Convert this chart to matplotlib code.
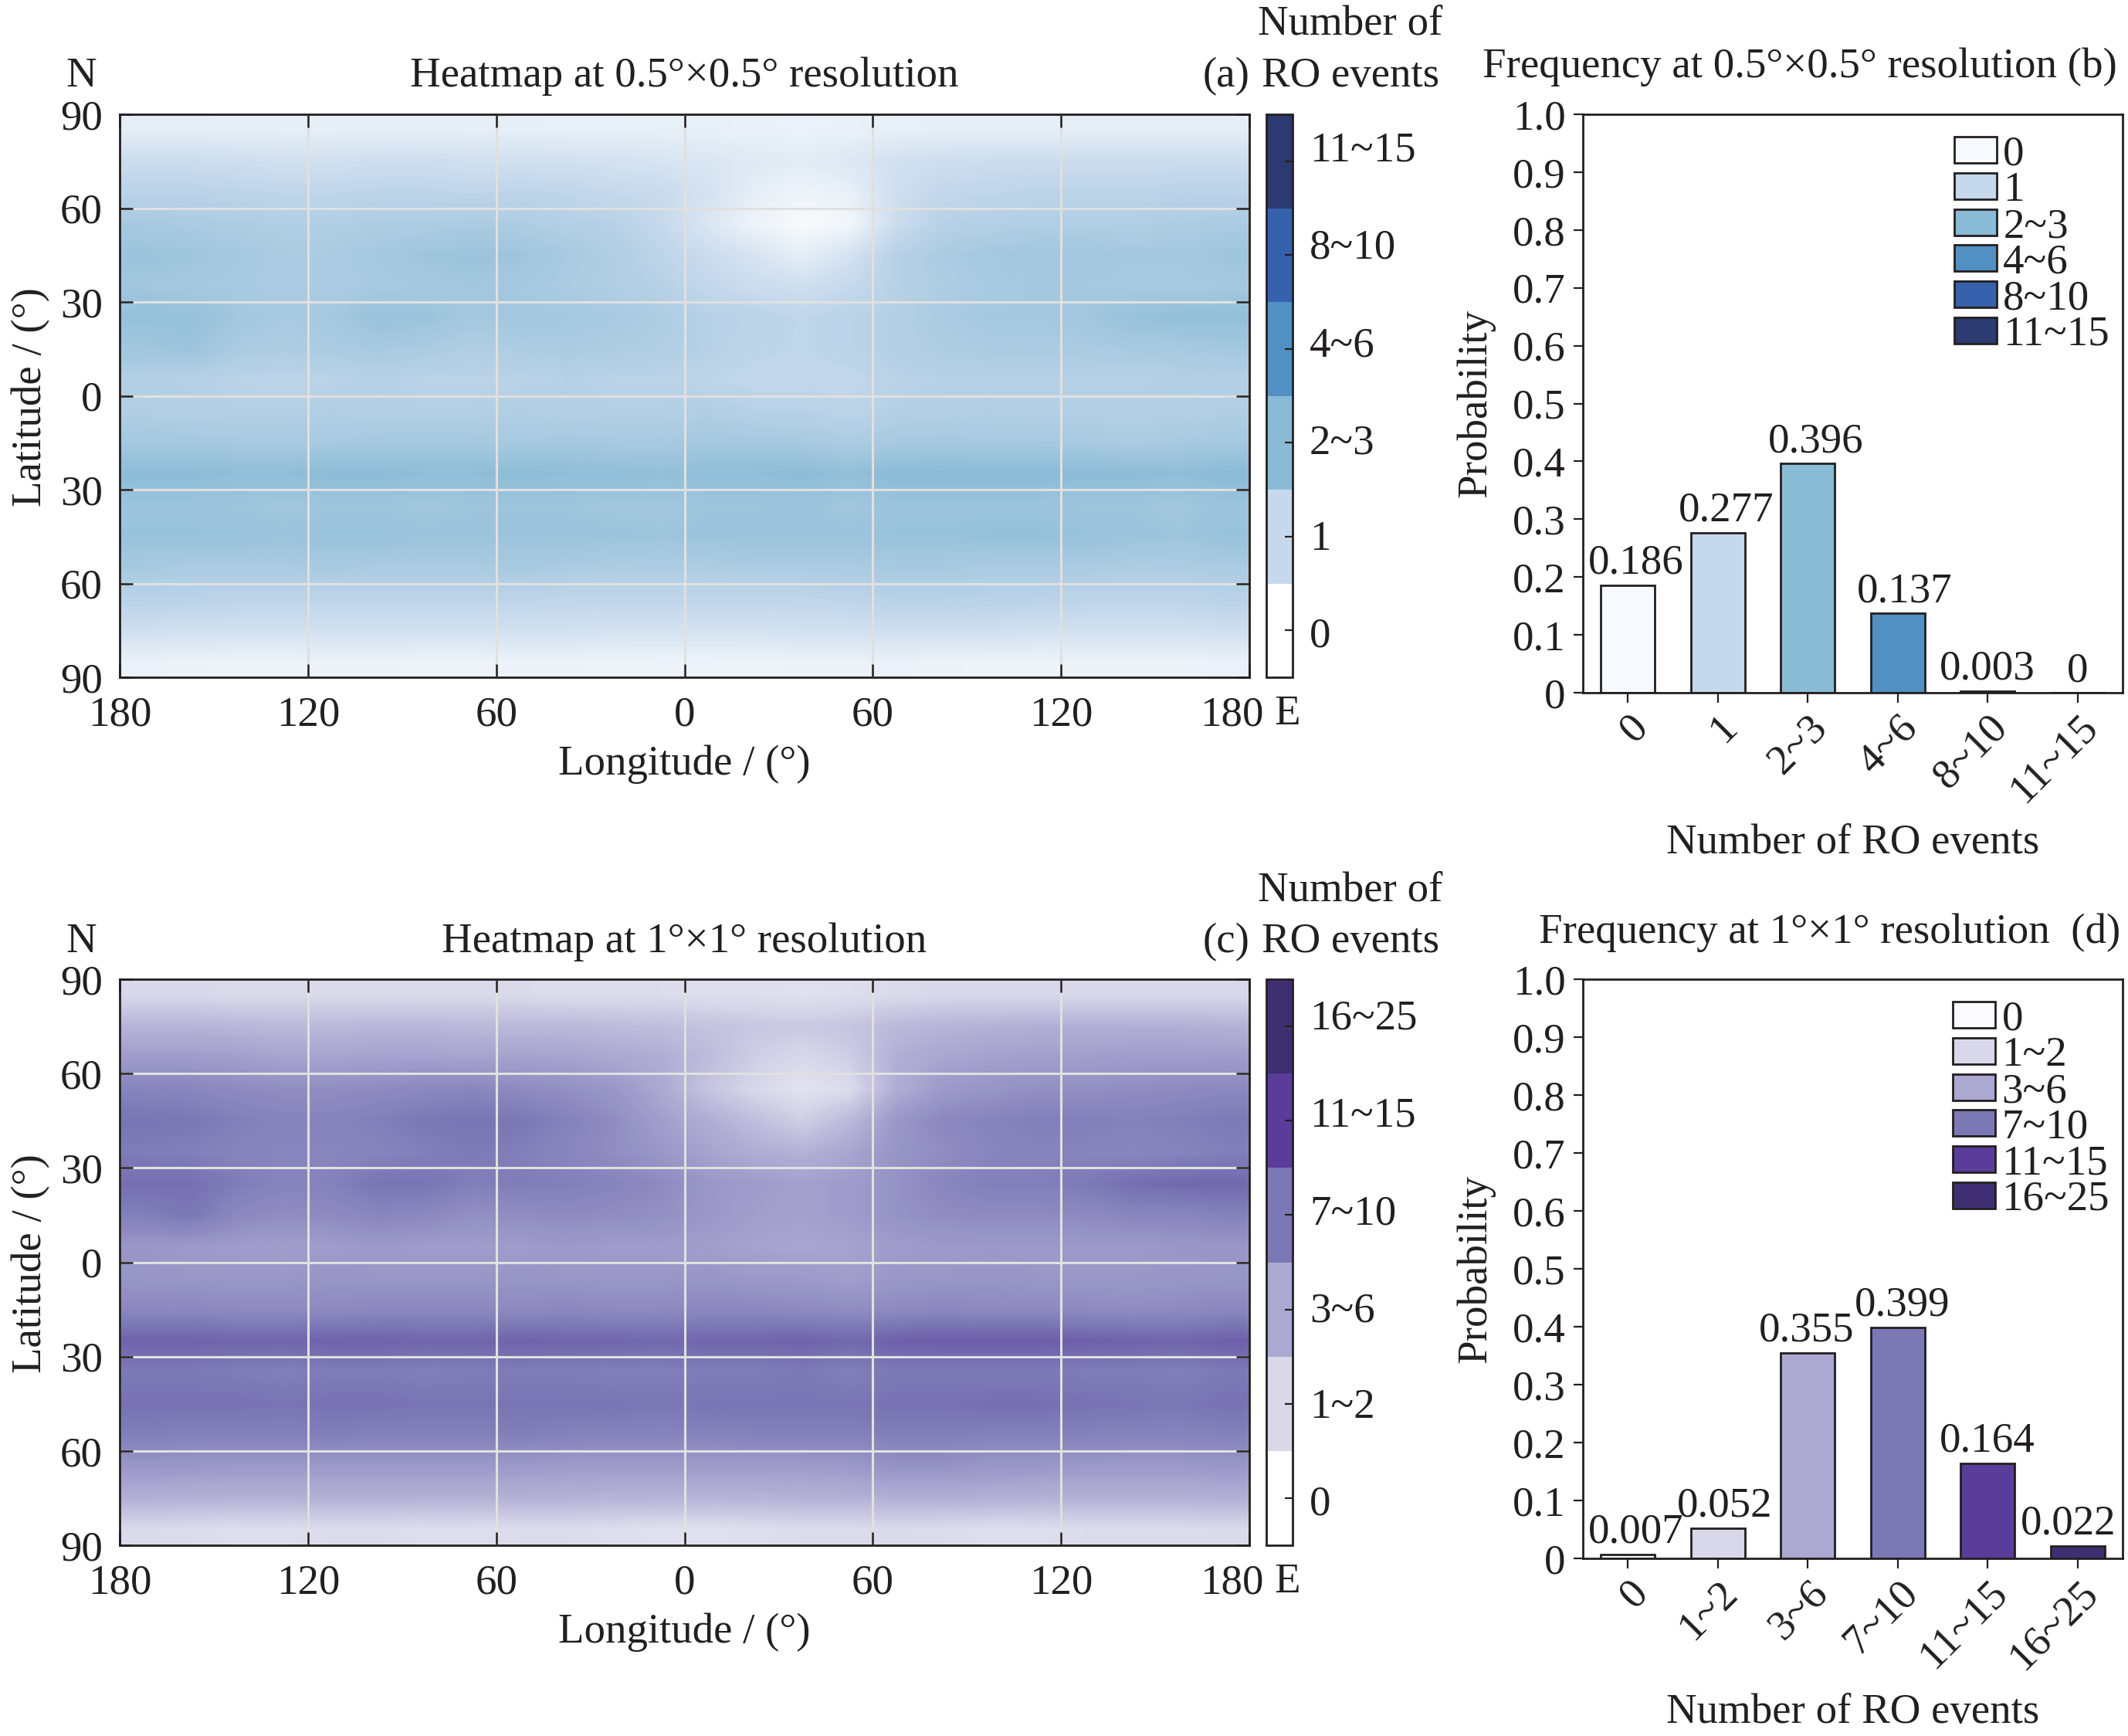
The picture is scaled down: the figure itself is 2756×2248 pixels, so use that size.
import matplotlib
matplotlib.use('Agg')
import matplotlib.pyplot as plt
import numpy as np
from matplotlib.cm import ScalarMappable
from matplotlib.colors import BoundaryNorm, LinearSegmentedColormap, ListedColormap
from matplotlib.patches import Patch
from matplotlib.transforms import ScaledTranslation

W, H = 2756, 2248
plt.rcParams['font.family'] = ['Liberation Serif', 'DejaVu Serif']
plt.rcParams['text.color'] = '#231F20'
plt.rcParams['axes.edgecolor'] = '#231F20'
plt.rcParams['xtick.color'] = '#231F20'
plt.rcParams['ytick.color'] = '#231F20'
FS = 39.5

# bar panels
classes_b = ['0', '1', '2~3', '4~6', '8~10', '11~15']
probs_b = [0.186, 0.277, 0.396, 0.137, 0.003, 0]
labels_b = ['0.186', '0.277', '0.396', '0.137', '0.003', '0']
shift_b = [0.09, 0.09, 0.09, 0.08, 0, 0]
colors_b = ['#F6F9FD', '#C6D9EC', '#8ABBD6', '#5190C2', '#3661AC', '#2B3A70']
cbar_colors_a = ['#FFFFFF', '#C6D9EC', '#8ABBD6', '#5190C2', '#3661AC', '#2B3A70']

classes_d = ['0', '1~2', '3~6', '7~10', '11~15', '16~25']
probs_d = [0.007, 0.052, 0.355, 0.399, 0.164, 0.022]
labels_d = ['0.007', '0.052', '0.355', '0.399', '0.164', '0.022']
shift_d = [0.09, 0.08, -0.01, 0.05, 0, -0.1]
colors_d = ['#FBFAFE', '#D9D8EA', '#ABA8D2', '#7C78B6', '#5A3D9A', '#3F2F72']
cbar_colors_c = ['#FFFFFF', '#D9D8EA', '#ABA8D2', '#7C78B6', '#5A3D9A', '#3F2F72']

# heatmaps: shade per 15 x 10 degree box, on the colour
# class scale (0 = lightest class). rows run 85N to 85S, columns 172.5W to 172.5E
heat_a = [
    [.46, .46, .44, .44, .44, .44, .44, .44, .44, .42, .42, .40, .40, .38, .36, .38, .42, .44, .44, .44, .46, .46, .46, .46],
    [.90, .90, .85, .80, .80, .85, .85, .80, .80, .80, .75, .70, .65, .55, .50, .60, .80, .85, .90, .90, .90, .90, .90, .90],
    [1.20, 1.20, 1.15, 1.10, 1.10, 1.15, 1.15, 1.10, 1.15, 1.10, 1.00, .95, .75, .45, .30, .40, .85, 1.05, 1.10, 1.15, 1.15, 1.15, 1.20, 1.20],
    [1.50, 1.45, 1.40, 1.35, 1.35, 1.40, 1.40, 1.45, 1.40, 1.30, 1.25, 1.00, .65, .30, .12, .22, .90, 1.25, 1.30, 1.35, 1.35, 1.35, 1.40, 1.45],
    [1.70, 1.65, 1.55, 1.45, 1.45, 1.55, 1.65, 1.70, 1.65, 1.50, 1.35, 1.15, .90, .70, .45, .75, 1.25, 1.45, 1.55, 1.60, 1.60, 1.55, 1.55, 1.65],
    [1.60, 1.55, 1.50, 1.45, 1.45, 1.50, 1.55, 1.60, 1.55, 1.45, 1.35, 1.25, 1.05, .90, .85, 1.00, 1.25, 1.40, 1.50, 1.55, 1.55, 1.50, 1.50, 1.55],
    [1.80, 1.80, 1.60, 1.50, 1.55, 1.75, 1.70, 1.55, 1.60, 1.55, 1.50, 1.40, 1.25, 1.20, 1.10, 1.20, 1.30, 1.45, 1.55, 1.55, 1.60, 1.75, 1.85, 1.85],
    [1.60, 1.70, 1.45, 1.40, 1.45, 1.50, 1.45, 1.35, 1.40, 1.45, 1.40, 1.35, 1.25, 1.15, 1.10, 1.20, 1.30, 1.40, 1.45, 1.45, 1.45, 1.50, 1.50, 1.55],
    [1.30, 1.25, 1.20, 1.15, 1.20, 1.25, 1.20, 1.20, 1.20, 1.25, 1.20, 1.20, 1.15, 1.05, 1.05, 1.05, 1.20, 1.25, 1.25, 1.25, 1.25, 1.25, 1.30, 1.30],
    [1.35, 1.30, 1.30, 1.30, 1.35, 1.30, 1.30, 1.30, 1.35, 1.30, 1.30, 1.30, 1.35, 1.25, 1.25, 1.15, 1.30, 1.30, 1.35, 1.30, 1.30, 1.30, 1.30, 1.35],
    [1.55, 1.55, 1.50, 1.50, 1.50, 1.55, 1.55, 1.55, 1.50, 1.55, 1.50, 1.50, 1.55, 1.55, 1.50, 1.45, 1.50, 1.55, 1.50, 1.50, 1.50, 1.45, 1.50, 1.55],
    [1.95, 1.95, 1.90, 1.90, 1.95, 1.95, 1.90, 1.90, 1.95, 1.90, 1.90, 1.85, 1.90, 1.90, 1.95, 1.85, 2.00, 2.00, 2.00, 2.00, 1.95, 1.95, 1.90, 2.00],
    [1.70, 1.70, 1.65, 1.60, 1.65, 1.65, 1.60, 1.65, 1.65, 1.65, 1.60, 1.60, 1.65, 1.65, 1.70, 1.60, 1.70, 1.70, 1.70, 1.70, 1.65, 1.65, 1.60, 1.70],
    [1.75, 1.75, 1.75, 1.70, 1.75, 1.75, 1.70, 1.70, 1.70, 1.70, 1.70, 1.65, 1.70, 1.70, 1.70, 1.70, 1.75, 1.75, 1.80, 1.80, 1.75, 1.70, 1.65, 1.75],
    [1.50, 1.45, 1.45, 1.45, 1.50, 1.45, 1.45, 1.45, 1.50, 1.45, 1.40, 1.40, 1.40, 1.45, 1.45, 1.45, 1.50, 1.50, 1.45, 1.45, 1.45, 1.40, 1.40, 1.45],
    [1.20, 1.20, 1.15, 1.15, 1.15, 1.15, 1.15, 1.15, 1.15, 1.10, 1.10, 1.10, 1.10, 1.10, 1.10, 1.15, 1.25, 1.25, 1.20, 1.20, 1.15, 1.15, 1.15, 1.20],
    [.85, .80, .80, .80, .80, .80, .80, .80, .80, .80, .75, .75, .75, .75, .80, .80, .85, .85, .85, .80, .80, .80, .80, .85],
    [.36, .34, .32, .32, .34, .34, .32, .32, .34, .34, .32, .30, .30, .32, .34, .34, .36, .34, .32, .32, .34, .34, .34, .36],
]
heat_c = [
    [1.00, 1.00, .95, .95, .95, .95, .95, .95, .95, .90, .90, .90, .85, .85, .80, .85, .95, 1.00, 1.00, 1.00, 1.00, 1.00, 1.00, 1.00],
    [1.75, 1.75, 1.70, 1.65, 1.65, 1.70, 1.70, 1.65, 1.65, 1.65, 1.60, 1.55, 1.45, 1.35, 1.30, 1.40, 1.65, 1.75, 1.80, 1.85, 1.85, 1.85, 1.85, 1.80],
    [2.25, 2.25, 2.20, 2.10, 2.10, 2.15, 2.15, 2.10, 2.15, 2.10, 2.00, 1.90, 1.60, 1.20, 1.00, 1.20, 1.85, 2.05, 2.15, 2.20, 2.20, 2.25, 2.25, 2.25],
    [2.75, 2.70, 2.60, 2.55, 2.55, 2.60, 2.65, 2.70, 2.60, 2.50, 2.35, 2.00, 1.40, 1.00, .75, .90, 1.90, 2.30, 2.40, 2.50, 2.50, 2.55, 2.60, 2.65],
    [3.05, 3.00, 2.85, 2.75, 2.75, 2.85, 3.00, 3.05, 3.00, 2.80, 2.55, 2.20, 1.90, 1.55, 1.20, 1.65, 2.35, 2.65, 2.75, 2.85, 2.85, 2.80, 2.85, 2.95],
    [2.90, 2.85, 2.75, 2.70, 2.70, 2.75, 2.85, 2.95, 2.85, 2.70, 2.55, 2.35, 2.10, 1.90, 1.80, 2.05, 2.40, 2.55, 2.70, 2.75, 2.75, 2.70, 2.75, 2.85],
    [3.15, 3.15, 2.90, 2.75, 2.80, 3.05, 3.05, 2.85, 2.90, 2.85, 2.75, 2.60, 2.35, 2.25, 2.15, 2.25, 2.45, 2.70, 2.85, 2.85, 2.95, 3.15, 3.25, 3.25],
    [2.85, 3.00, 2.65, 2.55, 2.60, 2.70, 2.65, 2.50, 2.55, 2.60, 2.55, 2.50, 2.35, 2.20, 2.15, 2.25, 2.45, 2.55, 2.60, 2.60, 2.60, 2.70, 2.70, 2.80],
    [2.35, 2.30, 2.25, 2.20, 2.25, 2.30, 2.25, 2.25, 2.25, 2.30, 2.25, 2.25, 2.20, 2.10, 2.05, 2.10, 2.25, 2.30, 2.30, 2.30, 2.30, 2.30, 2.35, 2.35],
    [2.40, 2.35, 2.35, 2.35, 2.40, 2.35, 2.35, 2.35, 2.40, 2.35, 2.35, 2.35, 2.40, 2.30, 2.30, 2.20, 2.35, 2.35, 2.40, 2.35, 2.35, 2.35, 2.35, 2.40],
    [2.65, 2.65, 2.60, 2.60, 2.60, 2.65, 2.65, 2.65, 2.60, 2.65, 2.60, 2.60, 2.65, 2.65, 2.60, 2.55, 2.60, 2.65, 2.60, 2.60, 2.60, 2.55, 2.60, 2.65],
    [3.35, 3.35, 3.30, 3.30, 3.35, 3.35, 3.30, 3.30, 3.35, 3.30, 3.30, 3.25, 3.30, 3.30, 3.35, 3.25, 3.40, 3.45, 3.45, 3.45, 3.40, 3.35, 3.30, 3.40],
    [2.95, 2.95, 2.90, 2.85, 2.90, 2.90, 2.85, 2.90, 2.90, 2.90, 2.85, 2.85, 2.90, 2.90, 2.95, 2.85, 2.95, 2.95, 2.95, 2.95, 2.90, 2.90, 2.85, 2.95],
    [3.10, 3.10, 3.10, 3.05, 3.10, 3.10, 3.05, 3.05, 3.05, 3.05, 3.05, 3.00, 3.05, 3.05, 3.05, 3.05, 3.10, 3.10, 3.15, 3.15, 3.10, 3.05, 3.00, 3.10],
    [2.85, 2.80, 2.80, 2.80, 2.85, 2.80, 2.80, 2.80, 2.85, 2.80, 2.75, 2.75, 2.75, 2.80, 2.80, 2.80, 2.85, 2.85, 2.80, 2.80, 2.80, 2.75, 2.75, 2.80],
    [2.35, 2.35, 2.30, 2.30, 2.30, 2.30, 2.30, 2.30, 2.30, 2.25, 2.25, 2.25, 2.25, 2.25, 2.25, 2.30, 2.45, 2.45, 2.35, 2.35, 2.30, 2.30, 2.30, 2.35],
    [1.85, 1.80, 1.80, 1.80, 1.80, 1.80, 1.80, 1.80, 1.80, 1.80, 1.75, 1.75, 1.75, 1.75, 1.80, 1.80, 1.85, 1.85, 1.85, 1.80, 1.80, 1.80, 1.80, 1.85],
    [.95, .90, .85, .85, .90, .90, .85, .85, .90, .90, .85, .80, .80, .85, .90, .90, .95, .90, .85, .85, .90, .90, .90, .95],
]

lon_ticks = [-180, -120, -60, 0, 60, 120, 180]
lon_labels = ['180', '120', '60', '0', '60', '120', '180']
lat_ticks = [-90, -60, -30, 0, 30, 60, 90]
lat_labels = ['90', '60', '30', '0', '30', '60', '90']
prob_ticks = [0, .1, .2, .3, .4, .5, .6, .7, .8, .9, 1.0]
prob_labels = ['0', '0.1', '0.2', '0.3', '0.4', '0.5', '0.6', '0.7', '0.8', '0.9', '1.0']

fig = plt.figure(figsize=(W / 100, H / 100), dpi=100)


def box(l, t, r, b):
    return fig.add_axes([l / W, 1 - b / H, (r - l) / W, (b - t) / H])


def put(x, y, s, **kw):
    kw.setdefault('ha', 'center')
    kw.setdefault('va', 'center')
    kw.setdefault('fontsize', FS)
    fig.text(x / W, 1 - y / H, s, **kw)


def heatmap(top, bottom, data, cbar_cols, classes, title, tag, title_y, num_y):
    ax = box(155, top, 1618, bottom)
    cm = LinearSegmentedColormap.from_list('shade', cbar_cols)
    ax.imshow(data, cmap=cm, vmin=0, vmax=5, extent=[-180, 180, -90, 90],
              aspect='auto', interpolation='bilinear')
    ax.set_xlim(-180, 180)
    ax.set_ylim(-90, 90)
    ax.set_xticks(lon_ticks, lon_labels)
    ax.set_yticks(lat_ticks, lat_labels)
    ax.grid(color='#E0E0E0', lw=2.2)
    ax.tick_params(axis='both', top=True, right=True, direction='in', length=12,
                   width=1.8, labelsize=FS)
    ax.tick_params(axis='x', pad=17)
    ax.tick_params(axis='y', pad=16)
    # the last 180 sits left of its tick to leave room for the E
    last = ax.get_xticklabels()[-1]
    last.set_transform(last.get_transform() + ScaledTranslation(-0.23, 0, fig.dpi_scale_trans))
    for s in ax.spines.values():
        s.set_linewidth(2)

    cax = box(1640, top, 1674, bottom)
    norm = BoundaryNorm(np.arange(-0.5, 6), 6)
    cb = fig.colorbar(ScalarMappable(norm=norm, cmap=ListedColormap(cbar_cols)),
                      cax=cax, ticks=range(6), spacing='uniform')
    cb.set_ticklabels([''] * 6)
    cb.ax.tick_params(direction='in', length=7, width=1.6)
    cb.ax.minorticks_off()
    cb.outline.set_linewidth(2)
    for name, up in zip(classes, [53, 178, 303, 429, 556, 682]):
        put(1696, bottom - up, name, ha='left')

    put(886, title_y, title)
    put(1618, title_y, tag, ha='right')
    put(1749, num_y, 'Number of')
    put(1749, title_y, 'RO events')
    put(105, title_y, 'N')
    put(1667, bottom + 48, 'E')
    put(40, (top + bottom) / 2 + 2, 'Latitude / (°)', rotation=90)
    put(886, bottom + 113, 'Longitude / (°)')


def bars(top, bottom, vals, texts, shift, cols, classes, title, title_x, title_y, xlabel_y):
    ax = box(2050, top, 2749, bottom)
    x = np.arange(len(vals))
    ax.bar(x, vals, width=0.6, color=cols, edgecolor='#231F20', linewidth=2)
    for i, v in enumerate(vals):
        ax.text(i + shift[i], v + 0.004, texts[i], ha='center', va='bottom', fontsize=FS)
    ax.set_xlim(-0.5, 5.5)
    ax.set_ylim(0, 1)
    ax.set_yticks(prob_ticks, prob_labels)
    ax.set_xticks(x, classes, rotation=45, ha='right', rotation_mode='anchor')
    ax.tick_params(axis='both', length=9, width=1.6, labelsize=FS)
    ax.tick_params(axis='x', pad=5)
    ax.tick_params(axis='y', pad=7)
    for s in ax.spines.values():
        s.set_linewidth(2)
    handles = [Patch(facecolor=c, edgecolor='#231F20', linewidth=2, label=k)
               for c, k in zip(cols, classes)]
    ax.legend(handles=handles, loc='upper right', frameon=False, fontsize=FS,
              labelspacing=-0.07, handlelength=1.0, handleheight=0.58,
              handletextpad=0.15, borderaxespad=0.2, borderpad=0.2,
              bbox_to_anchor=(1.007, 0.993))
    put(title_x, title_y, title)
    put(1911, (top + bottom) / 2, 'Probability', rotation=90)
    put(2400, xlabel_y, 'Number of RO events')


heatmap(148, 877, heat_a, cbar_colors_a, classes_b,
        'Heatmap at 0.5°×0.5° resolution', '(a)', 99, 31)
heatmap(1268, 2001, heat_c, cbar_colors_c, classes_d,
        'Heatmap at 1°×1° resolution', '(c)', 1220, 1153)
bars(148, 897, probs_b, labels_b, shift_b, colors_b, classes_b,
     'Frequency at 0.5°×0.5° resolution (b)', 2331, 87, 1092)
bars(1268, 2018, probs_d, labels_d, shift_d, colors_d, classes_d,
     'Frequency at 1°×1° resolution  (d)', 2370, 1208, 2218)

fig.savefig('out.png', dpi=100)
